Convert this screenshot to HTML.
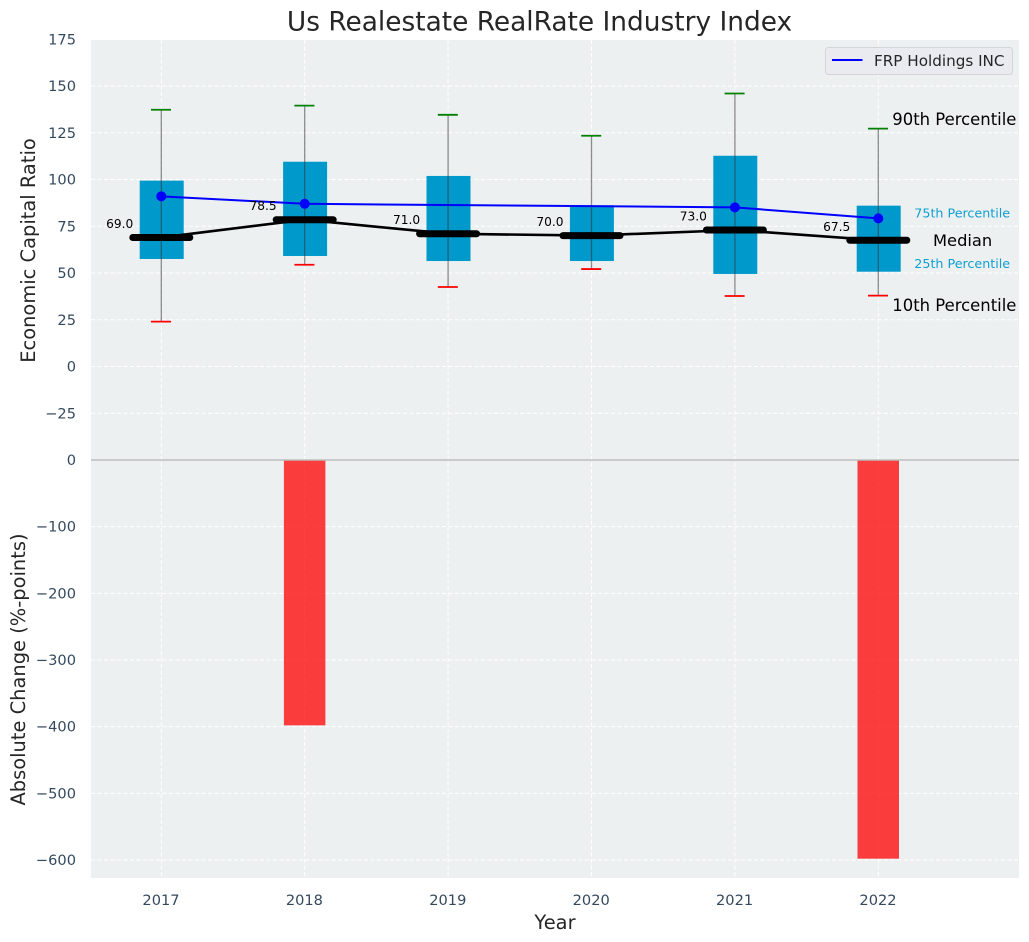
<!DOCTYPE html>
<html lang="en">
<head>
<meta charset="utf-8">
<title>Us Realestate RealRate Industry Index</title>
<style>
html,body{margin:0;padding:0;background:#fff;}
body{width:1029px;height:942px;overflow:hidden;}
svg{display:block;font-family:"DejaVu Sans","Liberation Sans",sans-serif;}
</style>
</head>
<body>
<svg id="chart" xmlns="http://www.w3.org/2000/svg" width="1029" height="942" viewBox="0 0 1029 942">
<rect x="91" y="40" width="928" height="420" fill="#ecf0f1"/>
<rect x="91" y="460" width="928" height="418" fill="#ecf0f1"/>
<g id="grid"></g>
<g id="bars"></g>
<line x1="91" x2="1019" y1="460" y2="460" stroke="#bdbdbd" stroke-width="1.5"/>
<g id="boxes"></g>
<g id="series"></g>
<g id="ticks"></g>
<text x="539.5" y="30.5" text-anchor="middle" font-size="26.4" fill="#262626">Us Realestate RealRate Industry Index</text>
<text transform="translate(35 250.5) rotate(-90)" text-anchor="middle" font-size="19.45" fill="#262626">Economic Capital Ratio</text>
<text transform="translate(25 669.5) rotate(-90)" text-anchor="middle" font-size="19.45" fill="#262626">Absolute Change (%-points)</text>
<text x="555" y="929" text-anchor="middle" font-size="19.45" fill="#262626">Year</text>
<text x="892.3" y="125" font-size="16.45" fill="#000">90th Percentile</text>
<text x="914.3" y="217.3" font-size="12.7" fill="#0f9fd0">75th Percentile</text>
<text x="933" y="246" font-size="16.3" fill="#000">Median</text>
<text x="914.3" y="268" font-size="12.7" fill="#0f9fd0">25th Percentile</text>
<text x="892.3" y="311" font-size="16.45" fill="#000">10th Percentile</text>
<g>
<rect x="825.5" y="47.5" width="187" height="27" rx="3" fill="#e9ebf0" stroke="#d3d5d8"/>
<line x1="832" x2="862.5" y1="60" y2="60" stroke="#0000ff" stroke-width="2"/>
<text x="874" y="66" font-size="15.2" fill="#262626">FRP Holdings INC</text>
</g>
</svg>
<script>
const years = ["2017", "2018", "2019", "2020", "2021", "2022"];
const p90 = [137.3, 139.5, 134.6, 123.4, 146, 127.2];
const p75 = [99.4, 109.5, 101.9, 86.2, 112.7, 86];
const median = [69, 78.5, 71, 70, 73, 67.5];
const p25 = [57.5, 59.1, 56.4, 56.4, 49.5, 50.7];
const p10 = [24, 54.4, 42.5, 52.1, 37.7, 37.9];
const company = [91, 87, null, null, 85.1, 79.2];
const absoluteChange = [0, -398, 0, 0, 0, -598];
const upperTicks = [175, 150, 125, 100, 75, 50, 25, 0, -25];
const lowerTicks = [0, -100, -200, -300, -400, -500, -600];

const NS = "http://www.w3.org/2000/svg";
function xScale(i) { return 161.3 + i * 143.4; }
function yUpper(v) { return 366.5 - v * 1.87; }
function yLower(v) { return 460 - v * 0.6667; }
function fmt(v) { return v < 0 ? "\u2212" + Math.abs(v) : String(v); }
function make(tag, parent, attrs) {
  const el = document.createElementNS(NS, tag);
  for (const k in attrs) el.setAttribute(k, attrs[k]);
  parent.appendChild(el);
  return el;
}
const grid = document.getElementById("grid");
const bars = document.getElementById("bars");
const boxes = document.getElementById("boxes");
const series = document.getElementById("series");
const ticks = document.getElementById("ticks");
const gridStyle = { stroke: "#ffffff", "stroke-width": 1, "stroke-dasharray": "4 2.5" };

upperTicks.forEach(function (t) {
  const y = yUpper(t);
  if (t !== 175) {
    const g = make("line", grid, Object.assign({ x1: 91, x2: 1019, y1: y, y2: y }, gridStyle));
    
    
  }
  const l = make("text", ticks, { x: 76, y: y + 5, "text-anchor": "end", "font-size": 14.6, fill: "#34495e" });
  l.textContent = fmt(t);
  
  
});
lowerTicks.forEach(function (t) {
  const y = yLower(t);
  if (t !== 0) {
    const g = make("line", grid, Object.assign({ x1: 91, x2: 1019, y1: y, y2: y }, gridStyle));
    
    
  }
  const l = make("text", ticks, { x: 76, y: y + 5, "text-anchor": "end", "font-size": 14.6, fill: "#34495e" });
  l.textContent = fmt(t);
  
  
});

years.forEach(function (year, i) {
  const x = xScale(i);
  const g = make("line", grid, Object.assign({ x1: x, x2: x, y1: 40, y2: 878 }, gridStyle));
  
  

  const l = make("text", ticks, { x: x - 0.3, y: 905, "text-anchor": "middle", "font-size": 14.6, fill: "#34495e" });
  l.textContent = year;
  
  

  if (absoluteChange[i] !== 0) {
    const b = make("rect", bars, { x: x - 20.8, y: yLower(0), width: 41.5, height: yLower(absoluteChange[i]) - yLower(0), fill: "#ff0000", "fill-opacity": 0.75 });
    
    
  }

  const box = make("rect", boxes, { x: x - 21.6, y: yUpper(p75[i]), width: 44, height: yUpper(p25[i]) - yUpper(p75[i]), fill: "#0099cc" });
  
  

  const w = make("line", boxes, { x1: x, x2: x, y1: yUpper(p90[i]), y2: yUpper(p10[i]), stroke: "#333333", "stroke-opacity": 0.55, "stroke-width": 1.3 });
  
  

  const top = make("line", boxes, { x1: x - 10.3, x2: x + 9.7, y1: yUpper(p90[i]), y2: yUpper(p90[i]), stroke: "#008000", "stroke-width": 1.8 });
  
  

  const bot = make("line", boxes, { x1: x - 10.3, x2: x + 9.7, y1: yUpper(p10[i]), y2: yUpper(p10[i]), stroke: "#ff0000", "stroke-width": 1.8 });
  
  
});

const medianPath = make("polyline", series, { points: median.map(function (v, i) { return xScale(i) + "," + yUpper(v); }).join(" "), fill: "none", stroke: "#000", "stroke-width": 2.6 });



median.forEach(function (v, i) {
  const x = xScale(i), y = yUpper(v);
  const m = make("line", series, { x1: x - 28.5, x2: x + 28.5, y1: y, y2: y, stroke: "#000", "stroke-width": 7, "stroke-linecap": "round" });
  
  
});

const companyPoints = [];
company.forEach(function (v, i) {
  if (v !== null) companyPoints.push(xScale(i) + "," + yUpper(v));
});
const companyPath = make("polyline", series, { points: companyPoints.join(" "), fill: "none", stroke: "#0000ff", "stroke-width": 2 });



company.forEach(function (v, i) {
  if (v === null) return;
  const c = make("circle", series, { cx: xScale(i), cy: yUpper(v), r: 5, fill: "#0000ff" });
  
  
});

median.forEach(function (v, i) {
  const t = make("text", series, { x: xScale(i) - 28, y: yUpper(v) - 9.5, "text-anchor": "end", "font-size": 12.2, fill: "#000" });
  t.textContent = v.toFixed(1);
  
  
});
</script>
</body>
</html>
